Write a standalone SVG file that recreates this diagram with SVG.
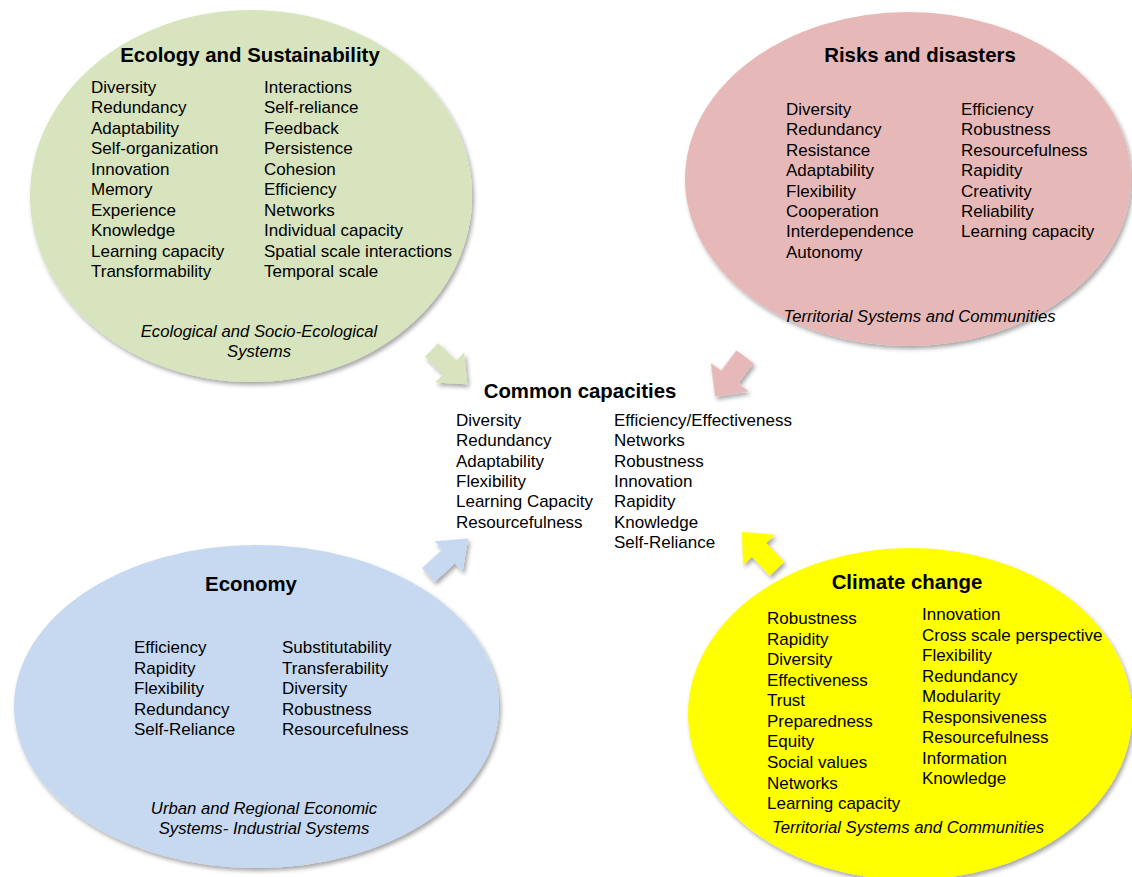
<svg xmlns="http://www.w3.org/2000/svg" xmlns:xlink="http://www.w3.org/1999/xlink" width="1132" height="877" viewBox="0 0 1132 877">
<defs>
  <filter id="sh" x="-10%" y="-10%" width="125%" height="125%">
    <feDropShadow dx="2" dy="3" stdDeviation="2" flood-color="#000" flood-opacity="0.35"/>
  </filter>
  <path id="arr" d="M0,-10 H26 V-22 L51,0 L26,22 V10 H0 Z"/>
</defs>
<style>
  text { font-family: "Liberation Sans", Arial, sans-serif; fill: #000; }
  .t { font-size: 20.4px; font-weight: bold; text-anchor: middle; }
  .i { font-size: 17px; }
  .s { font-size: 16.7px; font-style: italic; text-anchor: middle; }
  .g { fill: #D7E4BD; }
  .r { fill: #E6B9B8; }
  .b { fill: #C6D9F0; }
  .y { fill: #FFFF00; }
</style>
<rect width="1132" height="877" fill="#fff"/>

<g id="ecology">
  <ellipse class="g" cx="251" cy="196" rx="221" ry="186" filter="url(#sh)"/>
  <text class="t" x="250" y="62">Ecology and Sustainability</text>
  <text class="i" x="91" y="93">Diversity</text>
  <text class="i" x="91" y="113.4">Redundancy</text>
  <text class="i" x="91" y="133.9">Adaptability</text>
  <text class="i" x="91" y="154.3">Self-organization</text>
  <text class="i" x="91" y="174.8">Innovation</text>
  <text class="i" x="91" y="195.2">Memory</text>
  <text class="i" x="91" y="215.6">Experience</text>
  <text class="i" x="91" y="236.1">Knowledge</text>
  <text class="i" x="91" y="256.5">Learning capacity</text>
  <text class="i" x="91" y="277">Transformability</text>
  <text class="i" x="264" y="93">Interactions</text>
  <text class="i" x="264" y="113.4">Self-reliance</text>
  <text class="i" x="264" y="133.9">Feedback</text>
  <text class="i" x="264" y="154.3">Persistence</text>
  <text class="i" x="264" y="174.8">Cohesion</text>
  <text class="i" x="264" y="195.2">Efficiency</text>
  <text class="i" x="264" y="215.6">Networks</text>
  <text class="i" x="264" y="236.1">Individual capacity</text>
  <text class="i" x="264" y="256.5">Spatial scale interactions</text>
  <text class="i" x="264" y="277">Temporal scale</text>
  <text class="s" x="259" y="337">Ecological and Socio-Ecological</text>
  <text class="s" x="259" y="357">Systems</text>
</g>

<g id="risks">
  <ellipse class="r" cx="908" cy="179" rx="223" ry="167" filter="url(#sh)"/>
  <text class="t" x="920" y="62">Risks and disasters</text>
  <text class="i" x="786" y="115">Diversity</text>
  <text class="i" x="786" y="135.4">Redundancy</text>
  <text class="i" x="786" y="155.8">Resistance</text>
  <text class="i" x="786" y="176.2">Adaptability</text>
  <text class="i" x="786" y="196.6">Flexibility</text>
  <text class="i" x="786" y="217">Cooperation</text>
  <text class="i" x="786" y="237.4">Interdependence</text>
  <text class="i" x="786" y="257.8">Autonomy</text>
  <text class="i" x="961" y="115">Efficiency</text>
  <text class="i" x="961" y="135.4">Robustness</text>
  <text class="i" x="961" y="155.8">Resourcefulness</text>
  <text class="i" x="961" y="176.2">Rapidity</text>
  <text class="i" x="961" y="196.6">Creativity</text>
  <text class="i" x="961" y="217">Reliability</text>
  <text class="i" x="961" y="237.4">Learning capacity</text>
  <text class="s" x="919.5" y="322">Territorial Systems and Communities</text>
</g>

<g id="economy">
  <ellipse class="b" cx="256.5" cy="706.5" rx="242.5" ry="161.5" filter="url(#sh)"/>
  <text class="t" x="251" y="591">Economy</text>
  <text class="i" x="134" y="653.3">Efficiency</text>
  <text class="i" x="134" y="673.7">Rapidity</text>
  <text class="i" x="134" y="694.1">Flexibility</text>
  <text class="i" x="134" y="714.5">Redundancy</text>
  <text class="i" x="134" y="734.9">Self-Reliance</text>
  <text class="i" x="282" y="653.3">Substitutability</text>
  <text class="i" x="282" y="673.7">Transferability</text>
  <text class="i" x="282" y="694.1">Diversity</text>
  <text class="i" x="282" y="714.5">Robustness</text>
  <text class="i" x="282" y="734.9">Resourcefulness</text>
  <text class="s" x="264" y="814">Urban and Regional Economic</text>
  <text class="s" x="264" y="834">Systems- Industrial Systems</text>
</g>

<g id="climate">
  <ellipse class="y" cx="910" cy="714" rx="222" ry="166" filter="url(#sh)"/>
  <text class="t" x="907" y="589">Climate change</text>
  <text class="i" x="767" y="624">Robustness</text>
  <text class="i" x="767" y="644.6">Rapidity</text>
  <text class="i" x="767" y="665.1">Diversity</text>
  <text class="i" x="767" y="685.7">Effectiveness</text>
  <text class="i" x="767" y="706.2">Trust</text>
  <text class="i" x="767" y="726.8">Preparedness</text>
  <text class="i" x="767" y="747.4">Equity</text>
  <text class="i" x="767" y="767.9">Social values</text>
  <text class="i" x="767" y="788.5">Networks</text>
  <text class="i" x="767" y="809">Learning capacity</text>
  <text class="i" x="922" y="620">Innovation</text>
  <text class="i" x="922" y="640.5">Cross scale perspective</text>
  <text class="i" x="922" y="661">Flexibility</text>
  <text class="i" x="922" y="681.5">Redundancy</text>
  <text class="i" x="922" y="702">Modularity</text>
  <text class="i" x="922" y="722.5">Responsiveness</text>
  <text class="i" x="922" y="743">Resourcefulness</text>
  <text class="i" x="922" y="763.5">Information</text>
  <text class="i" x="922" y="784">Knowledge</text>
  <text class="s" x="908" y="833">Territorial Systems and Communities</text>
</g>

<g id="common">
  <text class="t" x="580" y="398">Common capacities</text>
  <text class="i" x="456" y="425.7">Diversity</text>
  <text class="i" x="456" y="446.1">Redundancy</text>
  <text class="i" x="456" y="466.6">Adaptability</text>
  <text class="i" x="456" y="487">Flexibility</text>
  <text class="i" x="456" y="507.4">Learning Capacity</text>
  <text class="i" x="456" y="527.9">Resourcefulness</text>
  <text class="i" x="614" y="425.7">Efficiency/Effectiveness</text>
  <text class="i" x="614" y="446.1">Networks</text>
  <text class="i" x="614" y="466.6">Robustness</text>
  <text class="i" x="614" y="487">Innovation</text>
  <text class="i" x="614" y="507.4">Rapidity</text>
  <text class="i" x="614" y="527.9">Knowledge</text>
  <text class="i" x="614" y="548.3">Self-Reliance</text>
</g>

<g id="connectors" filter="url(#sh)">
  <use xlink:href="#arr" href="#arr" class="g" transform="translate(431.5,350) rotate(43.8) scale(0.97,0.95)"/>
  <use xlink:href="#arr" href="#arr" class="r" transform="translate(745,356.7) rotate(126.9) scale(0.98,1.08)"/>
  <use xlink:href="#arr" href="#arr" class="b" transform="translate(428.3,575) rotate(-42.5) scale(1.06,0.94)"/>
  <use xlink:href="#arr" href="#arr" class="y" transform="translate(777,568.7) rotate(-133.7) scale(1,1)"/>
</g>
</svg>
